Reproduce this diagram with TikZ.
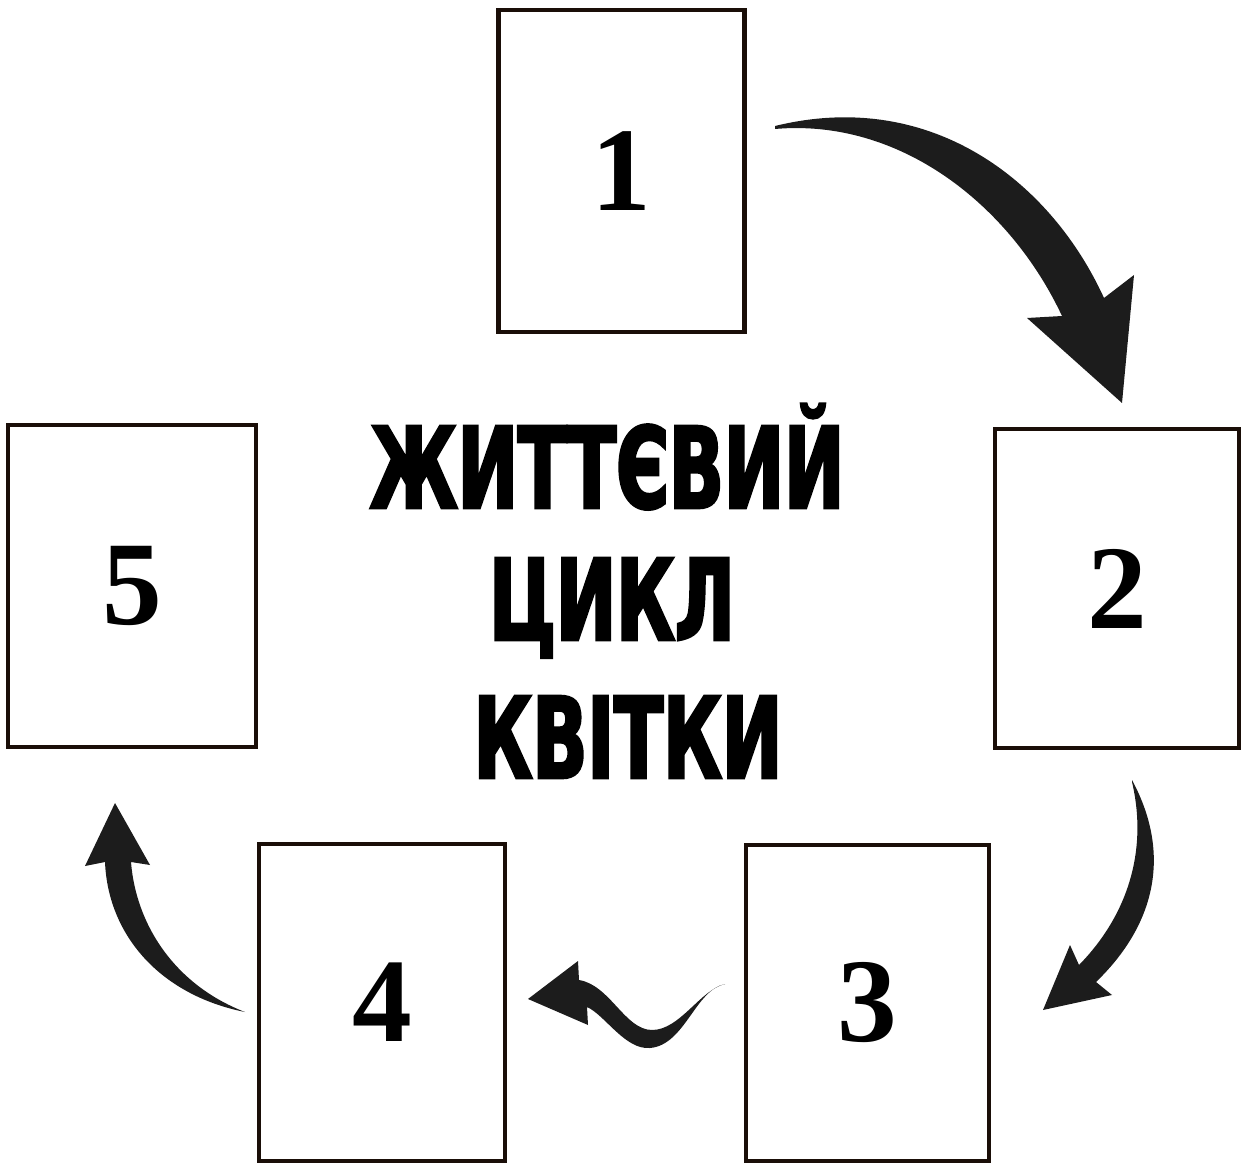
\documentclass[tikz,border=0pt]{standalone}
\usepackage{fontspec}
\setmainfont{Liberation Serif}
\newfontfamily\titlefont[FakeStretch=0.64, FakeBold=2.5]{DejaVu Sans}
\usetikzlibrary{positioning}
\definecolor{boxline}{HTML}{1A0E08}
\definecolor{arrowfill}{HTML}{1C1C1C}

\begin{document}
\begin{tikzpicture}[x=0.02cm, y=-0.02cm]
  \tikzset{
    stage/.style={
      draw=boxline,
      fill=white,
      line width=0.09cm,
      minimum width=4.92cm,
      minimum height=6.44cm,
      inner sep=0pt,
      font=\fontsize{68}{68}\selectfont\bfseries
    },
    title/.style={
      font=\titlefont\bfseries\fontsize{64}{64}\selectfont,
      inner sep=0pt,
      anchor=base
    },
    bigarrow/.style={
      fill=arrowfill,
      draw=none
    }
  }
  \useasboundingbox (0,0) rectangle (1251,1165);

  % Nodes
  \node[stage] (s1) at (621.5,171) {1};
  \node[stage, minimum width=4.88cm, minimum height=6.38cm] (s2) at (1117,588.5) {2};
  \node[stage, minimum width=4.86cm, minimum height=6.32cm] (s3) at (867.5,1003) {3};
  \node[stage, minimum height=6.34cm] (s4) at (382,1002.5) {4};
  \node[stage, minimum width=4.96cm] (s5) at (132,586) {5};

  % Title
  \node[title] (t1) at (607,508) {ЖИТТЄВИЙ};
  \node[title] (t2) at (612,640) {ЦИКЛ};
  \node[title] (t3) at (628,778) {КВІТКИ};

  % Arrows
  \fill[bigarrow] (775,126) .. controls (930,88) and (1050,180) .. (1104,298)
    -- (1134,275) -- (1122,403) -- (1027,318) -- (1062,316)
    .. controls (1010,205) and (900,118) .. (775,129) -- cycle;
  \fill[bigarrow] (1132,780) .. controls (1175,860) and (1150,930) .. (1096,982)
    -- (1112,995) -- (1043,1010) -- (1070,945) -- (1079,965)
    .. controls (1128,915) and (1148,850) .. (1132,782) -- cycle;
  \fill[bigarrow] (725,984) .. controls (700,990) and (680,1030) .. (652,1030)
    .. controls (625,1030) and (610,985) .. (579,980)
    -- (578,961) -- (528,999) -- (588,1025) -- (587,1007)
    .. controls (605,1015) and (625,1050) .. (650,1048)
    .. controls (685,1045) and (695,990) .. (725,984) -- cycle;
  \fill[bigarrow] (245,1012) .. controls (160,995) and (108,935) .. (105,862)
    -- (85,866) -- (115,803) -- (150,865) -- (131,862)
    .. controls (136,925) and (175,985) .. (245,1012) -- cycle;
\end{tikzpicture}
\end{document}
